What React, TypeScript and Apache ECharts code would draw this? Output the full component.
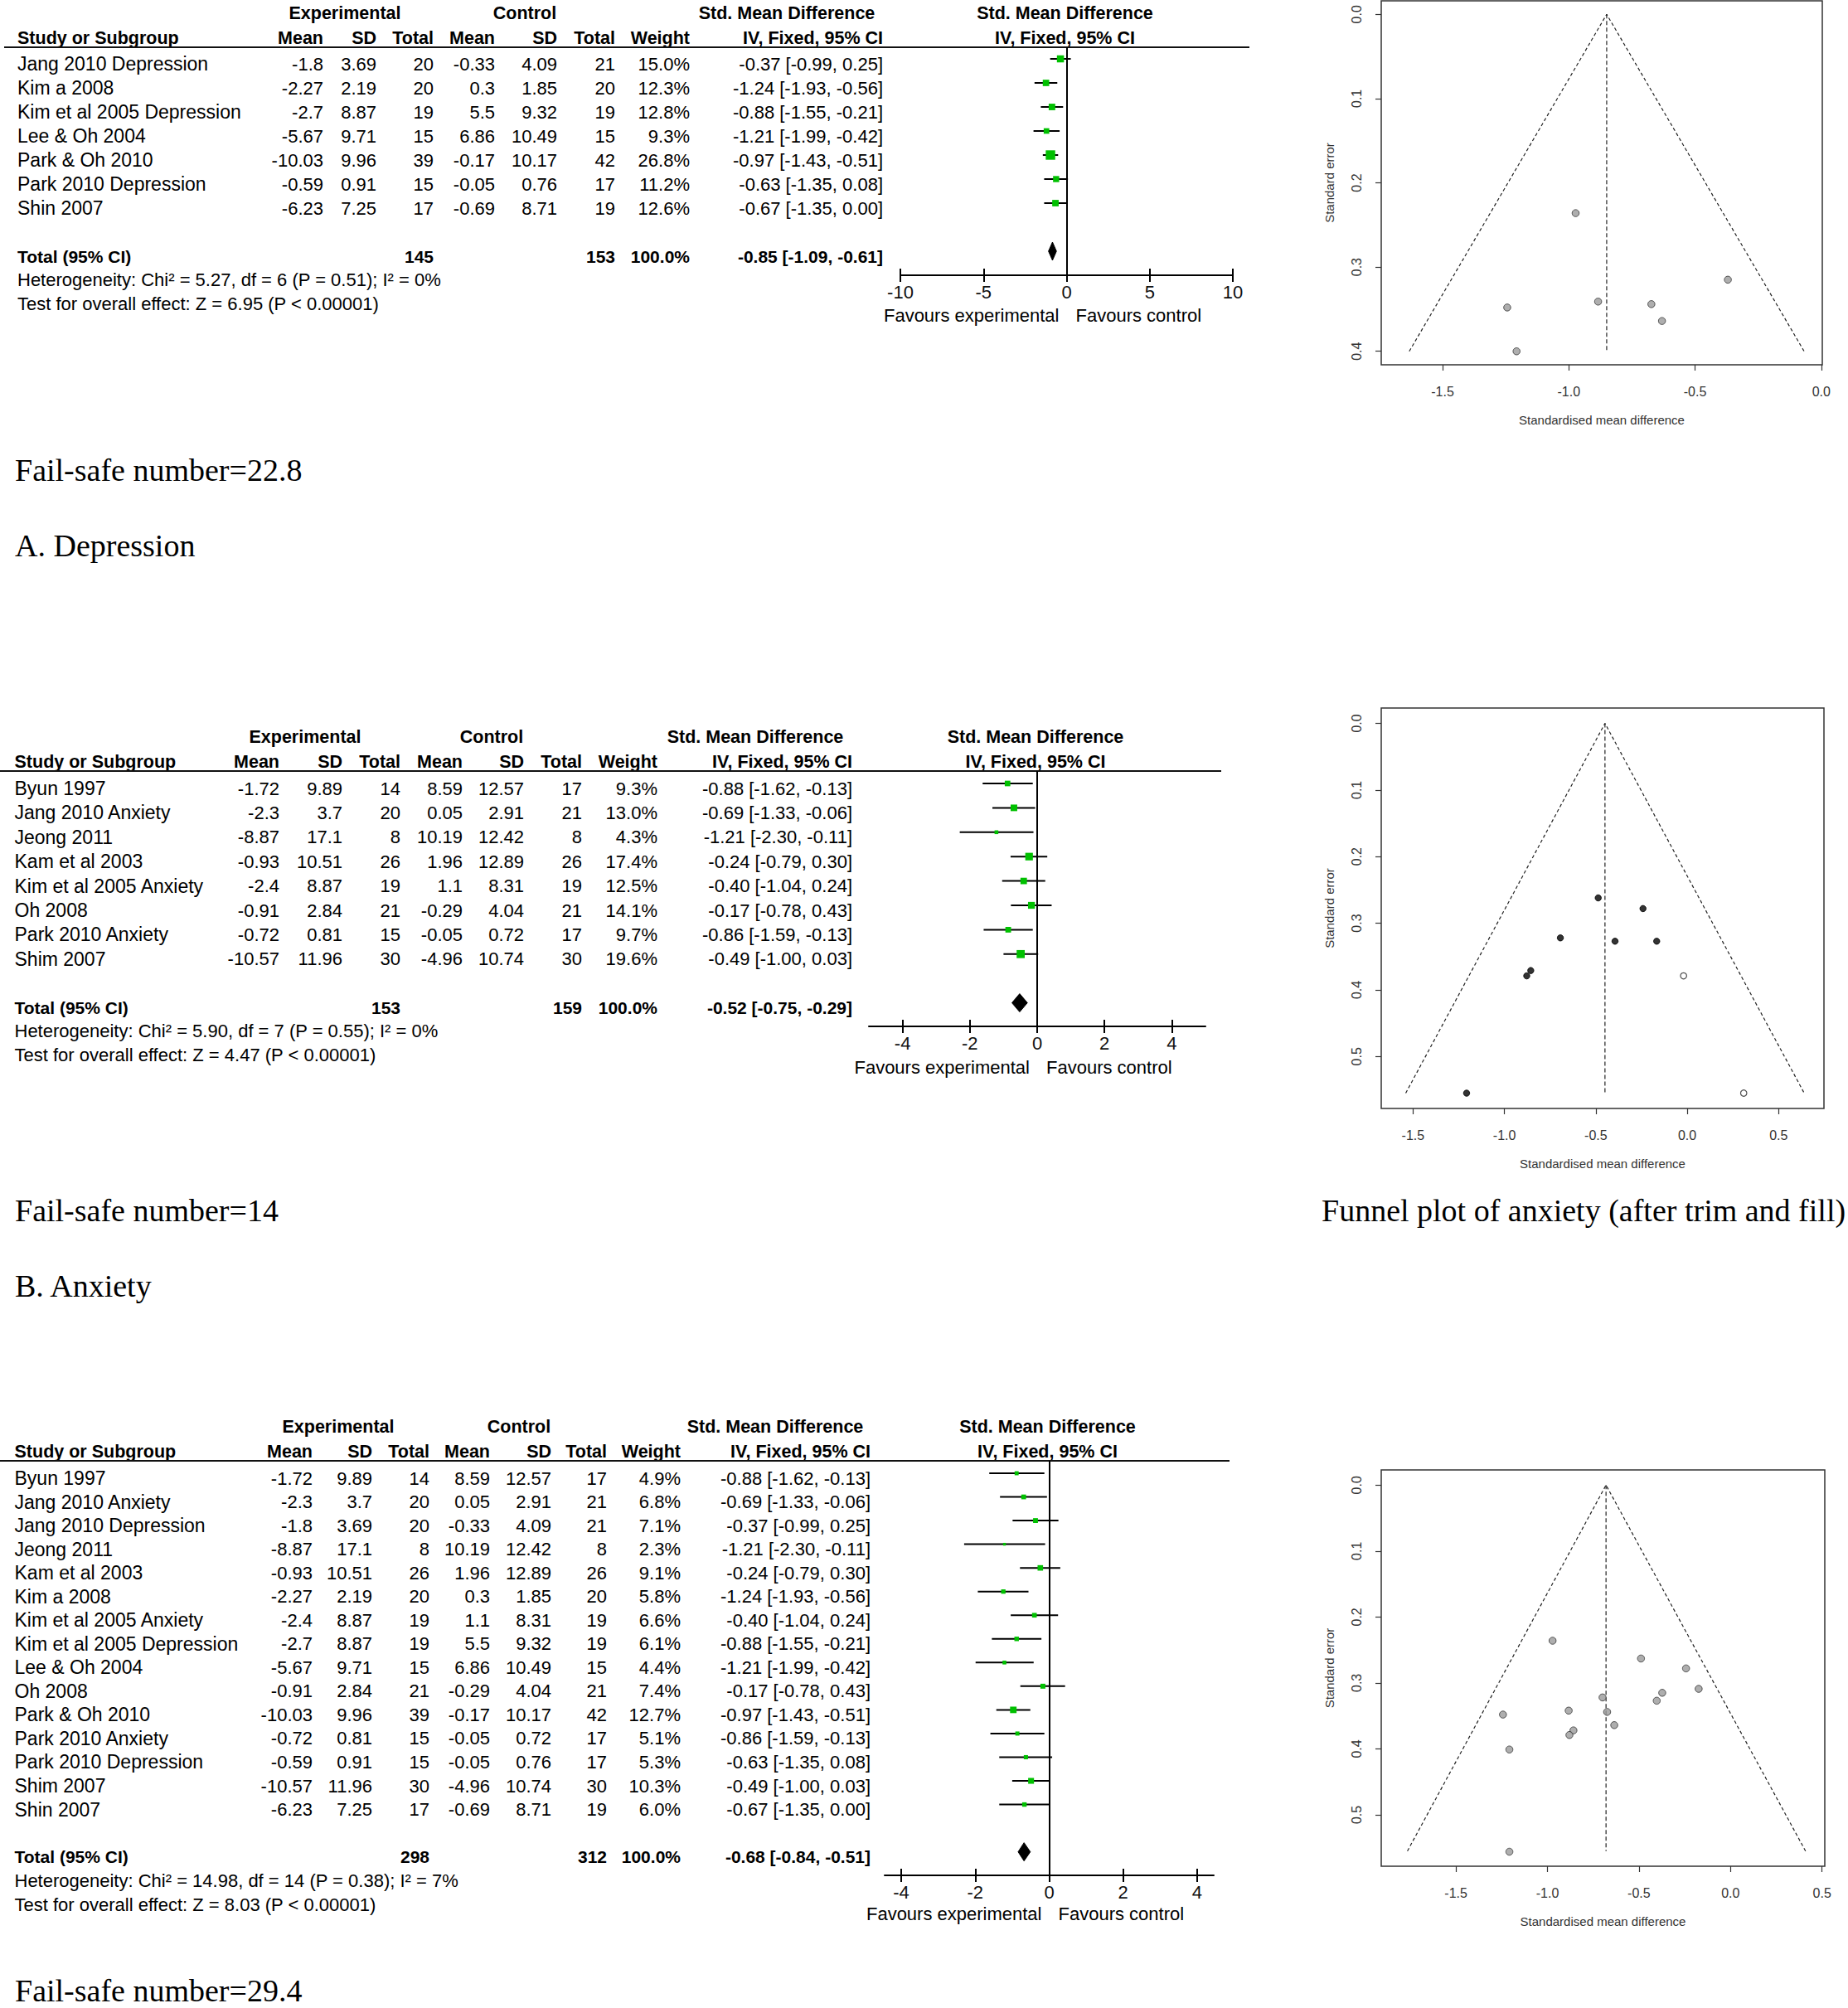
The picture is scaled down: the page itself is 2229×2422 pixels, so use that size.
import React, { useEffect, useRef } from "react";
import * as echarts from "echarts";

const PAGE_W = 2229;
const PAGE_H = 2422;
const TABLE_W = 1100;

// ================= A. Depression (forest) =================
const studiesA = ["Jang 2010 Depression", "Kim a 2008", "Kim et al 2005 Depression", "Lee & Oh 2004", "Park & Oh 2010", "Park 2010 Depression", "Shin 2007"];
const expMeanA = [-1.8, -2.27, -2.7, -5.67, -10.03, -0.59, -6.23];
const expSDA = [3.69, 2.19, 8.87, 9.71, 9.96, 0.91, 7.25];
const expNA = [20, 20, 19, 15, 39, 15, 17];
const ctlMeanA = [-0.33, 0.3, 5.5, 6.86, -0.17, -0.05, -0.69];
const ctlSDA = [4.09, 1.85, 9.32, 10.49, 10.17, 0.76, 8.71];
const ctlNA = [21, 20, 19, 15, 42, 17, 19];
const weightA = [15.0, 12.3, 12.8, 9.3, 26.8, 11.2, 12.6];
const smdA = [-0.37, -1.24, -0.88, -1.21, -0.97, -0.63, -0.67];
const lowA = [-0.99, -1.93, -1.55, -1.99, -1.43, -1.35, -1.35];
const highA = [0.25, -0.56, -0.21, -0.42, -0.51, 0.08, 0.0];
const totalNA = [145, 153];
const totalEffA = [-0.85, -1.09, -0.61];
const hetA = "Heterogeneity: Chi\u00b2 = 5.27, df = 6 (P = 0.51); I\u00b2 = 0%";
const testA = "Test for overall effect: Z = 6.95 (P < 0.00001)";
const forestTicksA = [-10, -5, 0, 5, 10];

// ================= B. Anxiety (forest) =================
const studiesB = ["Byun 1997", "Jang 2010 Anxiety", "Jeong 2011", "Kam et al 2003", "Kim et al 2005 Anxiety", "Oh 2008", "Park 2010 Anxiety", "Shim 2007"];
const expMeanB = [-1.72, -2.3, -8.87, -0.93, -2.4, -0.91, -0.72, -10.57];
const expSDB = [9.89, 3.7, 17.1, 10.51, 8.87, 2.84, 0.81, 11.96];
const expNB = [14, 20, 8, 26, 19, 21, 15, 30];
const ctlMeanB = [8.59, 0.05, 10.19, 1.96, 1.1, -0.29, -0.05, -4.96];
const ctlSDB = [12.57, 2.91, 12.42, 12.89, 8.31, 4.04, 0.72, 10.74];
const ctlNB = [17, 21, 8, 26, 19, 21, 17, 30];
const weightB = [9.3, 13.0, 4.3, 17.4, 12.5, 14.1, 9.7, 19.6];
const smdB = [-0.88, -0.69, -1.21, -0.24, -0.4, -0.17, -0.86, -0.49];
const lowB = [-1.62, -1.33, -2.3, -0.79, -1.04, -0.78, -1.59, -1.0];
const highB = [-0.13, -0.06, -0.11, 0.3, 0.24, 0.43, -0.13, 0.03];
const totalNB = [153, 159];
const totalEffB = [-0.52, -0.75, -0.29];
const hetB = "Heterogeneity: Chi\u00b2 = 5.90, df = 7 (P = 0.55); I\u00b2 = 0%";
const testB = "Test for overall effect: Z = 4.47 (P < 0.00001)";
const forestTicksB = [-4, -2, 0, 2, 4];

// ================= C. All (forest) =================
const studiesC = ["Byun 1997", "Jang 2010 Anxiety", "Jang 2010 Depression", "Jeong 2011", "Kam et al 2003", "Kim a 2008", "Kim et al 2005 Anxiety", "Kim et al 2005 Depression", "Lee & Oh 2004", "Oh 2008", "Park & Oh 2010", "Park 2010 Anxiety", "Park 2010 Depression", "Shim 2007", "Shin 2007"];
const expMeanC = [-1.72, -2.3, -1.8, -8.87, -0.93, -2.27, -2.4, -2.7, -5.67, -0.91, -10.03, -0.72, -0.59, -10.57, -6.23];
const expSDC = [9.89, 3.7, 3.69, 17.1, 10.51, 2.19, 8.87, 8.87, 9.71, 2.84, 9.96, 0.81, 0.91, 11.96, 7.25];
const expNC = [14, 20, 20, 8, 26, 20, 19, 19, 15, 21, 39, 15, 15, 30, 17];
const ctlMeanC = [8.59, 0.05, -0.33, 10.19, 1.96, 0.3, 1.1, 5.5, 6.86, -0.29, -0.17, -0.05, -0.05, -4.96, -0.69];
const ctlSDC = [12.57, 2.91, 4.09, 12.42, 12.89, 1.85, 8.31, 9.32, 10.49, 4.04, 10.17, 0.72, 0.76, 10.74, 8.71];
const ctlNC = [17, 21, 21, 8, 26, 20, 19, 19, 15, 21, 42, 17, 17, 30, 19];
const weightC = [4.9, 6.8, 7.1, 2.3, 9.1, 5.8, 6.6, 6.1, 4.4, 7.4, 12.7, 5.1, 5.3, 10.3, 6.0];
const smdC = [-0.88, -0.69, -0.37, -1.21, -0.24, -1.24, -0.4, -0.88, -1.21, -0.17, -0.97, -0.86, -0.63, -0.49, -0.67];
const lowC = [-1.62, -1.33, -0.99, -2.3, -0.79, -1.93, -1.04, -1.55, -1.99, -0.78, -1.43, -1.59, -1.35, -1.0, -1.35];
const highC = [-0.13, -0.06, 0.25, -0.11, 0.3, -0.56, 0.24, -0.21, -0.42, 0.43, -0.51, -0.13, 0.08, 0.03, 0.0];
const totalNC = [298, 312];
const totalEffC = [-0.68, -0.84, -0.51];
const hetC = "Heterogeneity: Chi\u00b2 = 14.98, df = 14 (P = 0.38); I\u00b2 = 7%";
const testC = "Test for overall effect: Z = 8.03 (P < 0.00001)";
const forestTicksC = [-4, -2, 0, 2, 4];

// ================= Funnel plots =================
const funnelSmdA = [-0.973, -0.37, -0.884, -1.244, -0.673, -0.631, -1.207];
const funnelSeA = [0.236, 0.315, 0.341, 0.348, 0.344, 0.364, 0.4];
const funnelShapeA = [-0.85, 0.4, -1.632, -0.068]; // apex, base SE, left, right
const funnelXTicksA = [-1.5, -1.0, -0.5, 0.0];
const funnelYTicksA = [0, 0.1, 0.2, 0.3, 0.4];

const funnelSmdB = [-0.487, -0.242, -0.694, -0.395, -0.167, -0.856, -0.878, -1.207];
const funnelSeB = [0.262, 0.278, 0.322, 0.327, 0.327, 0.371, 0.379, 0.555];
const filledSmdB = [-0.02, 0.309];
const filledSeB = [0.379, 0.555];
const funnelShapeB = [-0.45, 0.555, -1.54, 0.64];
const funnelXTicksB = [-1.5, -1.0, -0.5, 0.0, 0.5];
const funnelYTicksB = [0, 0.1, 0.2, 0.3, 0.4, 0.5];

const funnelSmdC = [-0.972, -0.489, -0.243, -0.174, -0.373, -0.403, -0.699, -0.674, -0.884, -1.243, -0.635, -0.858, -0.88, -1.208, -1.208];
const funnelSeC = [0.236, 0.263, 0.278, 0.309, 0.315, 0.327, 0.322, 0.344, 0.342, 0.348, 0.364, 0.372, 0.379, 0.401, 0.556];
const funnelShapeC = [-0.68, 0.555, -1.765, 0.41];
const funnelXTicksC = [-1.5, -1.0, -0.5, 0.0, 0.5];
const funnelYTicksC = [0, 0.1, 0.2, 0.3, 0.4, 0.5];

// ================= captions =================
const captionFailA = "Fail-safe number=22.8";
const captionA = "A. Depression";
const captionFailB = "Fail-safe number=14";
const captionB = "B. Anxiety";
const captionFunnelB = "Funnel plot of anxiety (after trim and fill)";
const captionFailC = "Fail-safe number=29.4";

const SANS = '"Liberation Sans", Arial, Helvetica, sans-serif';
const SERIF = '"Liberation Serif", "Times New Roman", serif';
const GREEN = "#00c000";

function fmtCI(e: number, l: number, h: number) {
  return `${e.toFixed(2)} [${l.toFixed(2)}, ${h.toFixed(2)}]`;
}

type ForestData = {
  studies: string[]; eM: number[]; eSD: number[]; eN: number[]; cM: number[]; cSD: number[]; cN: number[];
  w: number[]; est: number[]; lo: number[]; hi: number[]; totN: number[]; totEff: number[];
  het: string; test: string; ticks: number[];
};

type ForestLayout = {
  lineY: number; lineX0: number; lineX1: number; row0: number; rowH: number; axisY: number;
  nameX: number; cols: number[]; expX: number; ctlX: number; smdX: number;
  plotMin: number; plotMax: number; plotLeft: number; plotWidth: number;
  hetY: number; testY: number; favY: number;
};

type FunnelLayout = {
  left: number; top: number; width: number; height: number;
  xMin: number; xMax: number; yMin: number; yMax: number;
};

const layoutA: ForestLayout = {
  lineY: 57, lineX0: 5, lineX1: 1507, row0: 71, rowH: 29, axisY: 332,
  nameX: 21, cols: [390, 454, 523, 597, 672, 742, 832, 1065], expX: 416, ctlX: 633, smdX: 949,
  plotMin: -10, plotMax: 10, plotLeft: 1086, plotWidth: 401, hetY: 337, testY: 366, favY: 380,
};
const layoutB: ForestLayout = {
  lineY: 930, lineX0: 0, lineX1: 1473, row0: 945, rowH: 29.4, axisY: 1238,
  nameX: 17.5, cols: [337, 413, 483, 558, 632, 702, 793, 1028], expX: 368, ctlX: 593, smdX: 911,
  plotMin: -5, plotMax: 5, plotLeft: 1048, plotWidth: 406, hetY: 1243, testY: 1272, favY: 1287,
};
const layoutC: ForestLayout = {
  lineY: 1762, lineX0: 0, lineX1: 1483, row0: 1777, rowH: 28.54, axisY: 2262,
  nameX: 17.5, cols: [377, 449, 518, 591, 665, 732, 821, 1050], expX: 408, ctlX: 626, smdX: 935,
  plotMin: -4.45, plotMax: 4.45, plotLeft: 1067, plotWidth: 397, hetY: 2268, testY: 2297, favY: 2308,
};

const funnelLayoutA: FunnelLayout = { left: 1666, top: 1, width: 532, height: 439, xMin: -1.743, xMax: 0.004, yMin: -0.016, yMax: 0.416 };
const funnelLayoutB: FunnelLayout = { left: 1666, top: 854, width: 534, height: 483, xMin: -1.674, xMax: 0.748, yMin: -0.023, yMax: 0.578 };
const funnelLayoutC: FunnelLayout = { left: 1666, top: 1773, width: 535, height: 478, xMin: -1.908, xMax: 0.515, yMin: -0.023, yMax: 0.578 };

function buildOption() {
  const grid: any[] = [];
  const xAxis: any[] = [];
  const yAxis: any[] = [];
  const series: any[] = [];
  const graphic: any[] = [];

  const addText = (s: string, x: number, y: number, o: { size: number; bold?: boolean; align?: string; family?: string }) => {
    graphic.push({
      type: "text", x, y, silent: true,
      style: {
        text: s, fill: "#000", fontSize: o.size, fontFamily: o.family || SANS,
        fontWeight: o.bold ? "bold" : "normal",
        textAlign: o.align || "left", textVerticalAlign: "middle",
        align: o.align || "left", verticalAlign: "middle",
      },
    });
  };

  const addForest = (d: ForestData, L: ForestLayout) => {
    const n = d.studies.length;
    const H = L.axisY - L.lineY;
    const yMin = -(L.row0 - L.lineY) / L.rowH;
    const yMax = yMin + H / L.rowH;
    const TEXT_DY = 6;

    const gPlot = grid.length;
    grid.push({ left: L.plotLeft, top: L.lineY, width: L.plotWidth, height: H });
    const gTab = grid.length;
    grid.push({ left: 0, top: L.lineY, width: TABLE_W, height: H });

    const xP = xAxis.length;
    xAxis.push({
      gridIndex: gPlot, type: "value", min: L.plotMin, max: L.plotMax, position: "bottom",
      axisLine: { show: true, onZero: false, lineStyle: { color: "#000", width: 2 } },
      axisTick: { show: true, inside: false, length: 8, customValues: d.ticks, lineStyle: { color: "#000", width: 2 } },
      axisLabel: { show: true, customValues: d.ticks, fontSize: 22, fontFamily: SANS, color: "#111", margin: 9, formatter: (v: number) => String(v) },
      splitLine: { show: false },
    });
    xAxis.push({
      gridIndex: gPlot, type: "value", min: L.plotMin, max: L.plotMax, position: "bottom",
      axisLine: { show: false, onZero: false },
      axisTick: { show: true, inside: true, length: 8, customValues: d.ticks, lineStyle: { color: "#000", width: 2 } },
      axisLabel: { show: false },
      splitLine: { show: false },
    });
    const xT = xAxis.length;
    xAxis.push({ gridIndex: gTab, type: "value", min: 0, max: TABLE_W, show: false, axisLine: { onZero: false }, splitLine: { show: false } });

    const yP = yAxis.length;
    yAxis.push({ gridIndex: gPlot, type: "value", inverse: true, min: yMin, max: yMax, show: false, axisLine: { onZero: false }, splitLine: { show: false } });
    const yT = yAxis.length;
    yAxis.push({ gridIndex: gTab, type: "value", inverse: true, min: yMin, max: yMax, show: false, axisLine: { onZero: false }, splitLine: { show: false } });

    // whiskers
    series.push({
      type: "custom", xAxisIndex: xP, yAxisIndex: yP, silent: true,
      data: d.est.map((e, i) => [e, i, d.lo[i], d.hi[i]]),
      encode: { x: [0, 2, 3], y: 1 },
      renderItem: (_p: any, api: any) => {
        const r = api.value(1);
        const a = api.coord([api.value(2), r]);
        const b = api.coord([api.value(3), r]);
        return { type: "line", shape: { x1: a[0], y1: a[1], x2: b[0], y2: b[1] }, style: { stroke: "#000", lineWidth: 2 } };
      },
      z: 3,
    });
    // squares + zero line
    series.push({
      type: "scatter", xAxisIndex: xP, yAxisIndex: yP, silent: true,
      data: d.est.map((e, i) => [e, i, d.w[i]]),
      symbol: "rect",
      symbolSize: (v: number[]) => 2.2 * Math.sqrt(v[2]),
      itemStyle: { color: GREEN, opacity: 1 },
      z: 4,
      markLine: {
        silent: true, symbol: ["none", "none"], label: { show: false },
        lineStyle: { color: "#000", width: 2, type: "solid" },
        data: [{ xAxis: 0 }],
      },
    });
    // diamond
    series.push({
      type: "custom", xAxisIndex: xP, yAxisIndex: yP, silent: true,
      data: [[d.totEff[0], n + 1, d.totEff[1], d.totEff[2]]],
      encode: { x: [0, 2, 3], y: 1 },
      renderItem: (_p: any, api: any) => {
        const r = api.value(1);
        const c = api.coord([api.value(0), r]);
        const l = api.coord([api.value(2), r]);
        const h = api.coord([api.value(3), r]);
        const hh = 11;
        return {
          type: "polygon",
          shape: { points: [[l[0], c[1]], [c[0], c[1] - hh], [h[0], c[1]], [c[0], c[1] + hh]] },
          style: { fill: "#000", stroke: "#000", lineWidth: 1 },
        };
      },
      z: 5,
    });

    // table cells
    const rowCells: string[][] = d.studies.map((s, i) => [
      s, String(d.eM[i]), String(d.eSD[i]), String(d.eN[i]), String(d.cM[i]), String(d.cSD[i]), String(d.cN[i]),
      d.w[i].toFixed(1) + "%", fmtCI(d.est[i], d.lo[i], d.hi[i]),
    ]);
    const totalCells = ["Total (95% CI)", "", "", String(d.totN[0]), "", "", String(d.totN[1]), "100.0%", fmtCI(d.totEff[0], d.totEff[1], d.totEff[2])];
    const tableData = [...d.studies.map((_s, i) => [0, i]), [0, n + 1]];
    series.push({
      type: "custom", xAxisIndex: xT, yAxisIndex: yT, silent: true,
      data: tableData,
      encode: { x: 0, y: 1 },
      renderItem: (params: any, api: any) => {
        const idx = params.dataIndex;
        const r = api.value(1);
        const isTotal = idx === n;
        const cells = isTotal ? totalCells : rowCells[idx];
        const y = api.coord([0, r])[1] + TEXT_DY;
        const children: any[] = [];
        const mk = (t: string, x: number, align: string, size: number) => ({
          type: "text", x, y,
          style: {
            text: t, fill: "#000", fontSize: size, fontFamily: SANS,
            fontWeight: isTotal ? "bold" : "normal",
            textAlign: align, textVerticalAlign: "middle", align, verticalAlign: "middle",
          },
        });
        children.push(mk(cells[0], api.coord([L.nameX, r])[0], "left", isTotal ? 21 : 23));
        for (let k = 0; k < 8; k++) {
          if (cells[k + 1]) children.push(mk(cells[k + 1], api.coord([L.cols[k], r])[0], "right", isTotal ? 21 : 22));
        }
        return { type: "group", children };
      },
    });

    // headers
    const h1 = L.lineY - 41;
    const h2 = L.lineY - 11;
    addText("Experimental", L.expX, h1, { size: 21.5, bold: true, align: "center" });
    addText("Control", L.ctlX, h1, { size: 21.5, bold: true, align: "center" });
    addText("Std. Mean Difference", L.smdX, h1, { size: 21.5, bold: true, align: "center" });
    addText("Study or Subgroup", L.nameX, h2, { size: 21.5, bold: true, align: "left" });
    const hdr = ["Mean", "SD", "Total", "Mean", "SD", "Total", "Weight", "IV, Fixed, 95% CI"];
    hdr.forEach((t, k) => addText(t, L.cols[k], h2, { size: 21.5, bold: true, align: "right" }));
    const zeroPx = L.plotLeft + ((0 - L.plotMin) / (L.plotMax - L.plotMin)) * L.plotWidth;
    addText("Std. Mean Difference", zeroPx - 2, h1, { size: 21.5, bold: true, align: "center" });
    addText("IV, Fixed, 95% CI", zeroPx - 2, h2, { size: 21.5, bold: true, align: "center" });
    graphic.push({
      type: "line", silent: true,
      shape: { x1: L.lineX0, y1: L.lineY, x2: L.lineX1, y2: L.lineY },
      style: { stroke: "#111", lineWidth: 2 },
    });
    addText(d.het, L.nameX, L.hetY, { size: 22 });
    addText(d.test, L.nameX, L.testY, { size: 22 });
    addText("Favours experimental", zeroPx - 9, L.favY, { size: 22, align: "right" });
    addText("Favours control", zeroPx + 11, L.favY, { size: 22, align: "left" });
  };

  const addFunnel = (F: FunnelLayout, shape: number[], xTicks: number[], yTicks: number[], pts: { smd: number[]; se: number[]; kind: string }[]) => {
    const g = grid.length;
    grid.push({ left: F.left, top: F.top, width: F.width, height: F.height, show: true, borderColor: "#333", borderWidth: 1.5, backgroundColor: "rgba(0,0,0,0)" });
    const xi = xAxis.length;
    xAxis.push({
      gridIndex: g, type: "value", min: F.xMin, max: F.xMax, position: "bottom",
      axisLine: { show: false, onZero: false }, splitLine: { show: false },
      axisTick: { show: true, inside: false, length: 7, customValues: xTicks, lineStyle: { color: "#333", width: 1.2 } },
      axisLabel: { show: true, customValues: xTicks, formatter: (v: number) => Number(v).toFixed(1), fontSize: 16, fontFamily: SANS, color: "#333", margin: 24 },
      name: "Standardised mean difference", nameLocation: "middle", nameGap: 59,
      nameTextStyle: { fontSize: 15, fontFamily: SANS, color: "#333" },
    });
    const yi = yAxis.length;
    yAxis.push({
      gridIndex: g, type: "value", inverse: true, min: F.yMin, max: F.yMax, position: "left",
      axisLine: { show: false, onZero: false }, splitLine: { show: false },
      axisTick: { show: true, inside: false, length: 7, customValues: yTicks, lineStyle: { color: "#333", width: 1.2 } },
      axisLabel: { show: true, customValues: yTicks, rotate: 90, formatter: (v: number) => Number(v).toFixed(1), fontSize: 16, fontFamily: SANS, color: "#333", margin: 22 },
      name: "Standard error", nameLocation: "middle", nameGap: 55, nameRotate: 90,
      nameTextStyle: { fontSize: 15, fontFamily: SANS, color: "#333" },
    });
    const [apex, base, lo, hi] = shape;
    series.push({
      type: "line", xAxisIndex: xi, yAxisIndex: yi, silent: true, symbol: "none", showSymbol: false,
      data: [[lo, base], [apex, 0], [hi, base]],
      lineStyle: { color: "#222", width: 1.2, type: [4, 3] }, z: 2,
    });
    series.push({
      type: "line", xAxisIndex: xi, yAxisIndex: yi, silent: true, symbol: "none", showSymbol: false,
      data: [[apex, 0], [apex, base]],
      lineStyle: { color: "#222", width: 1.2, type: [5, 3] }, z: 2,
    });
    pts.forEach((p) => {
      const style =
        p.kind === "grey" ? { color: "#9a9a9a", borderColor: "#333", borderWidth: 1 }
        : p.kind === "black" ? { color: "#000", borderColor: "#000", borderWidth: 1 }
        : { color: "#fff", borderColor: "#222", borderWidth: 1.2 };
      series.push({
        type: "scatter", xAxisIndex: xi, yAxisIndex: yi, silent: true,
        data: p.smd.map((x, i) => [x, p.se[i]]),
        symbol: "circle", symbolSize: p.kind === "grey" ? 8.5 : 7.5,
        itemStyle: style, z: 4,
      });
    });
  };

  addForest({
    studies: studiesA, eM: expMeanA, eSD: expSDA, eN: expNA, cM: ctlMeanA, cSD: ctlSDA, cN: ctlNA,
    w: weightA, est: smdA, lo: lowA, hi: highA, totN: totalNA, totEff: totalEffA, het: hetA, test: testA, ticks: forestTicksA,
  }, layoutA);
  addForest({
    studies: studiesB, eM: expMeanB, eSD: expSDB, eN: expNB, cM: ctlMeanB, cSD: ctlSDB, cN: ctlNB,
    w: weightB, est: smdB, lo: lowB, hi: highB, totN: totalNB, totEff: totalEffB, het: hetB, test: testB, ticks: forestTicksB,
  }, layoutB);
  addForest({
    studies: studiesC, eM: expMeanC, eSD: expSDC, eN: expNC, cM: ctlMeanC, cSD: ctlSDC, cN: ctlNC,
    w: weightC, est: smdC, lo: lowC, hi: highC, totN: totalNC, totEff: totalEffC, het: hetC, test: testC, ticks: forestTicksC,
  }, layoutC);

  addFunnel(funnelLayoutA, funnelShapeA, funnelXTicksA, funnelYTicksA, [{ smd: funnelSmdA, se: funnelSeA, kind: "grey" }]);
  addFunnel(funnelLayoutB, funnelShapeB, funnelXTicksB, funnelYTicksB, [
    { smd: funnelSmdB, se: funnelSeB, kind: "black" },
    { smd: filledSmdB, se: filledSeB, kind: "open" },
  ]);
  addFunnel(funnelLayoutC, funnelShapeC, funnelXTicksC, funnelYTicksC, [{ smd: funnelSmdC, se: funnelSeC, kind: "grey" }]);

  // captions
  addText(captionFailA, 18, 567, { size: 38, family: SERIF });
  addText(captionA, 18, 658, { size: 38, family: SERIF });
  addText(captionFailB, 18, 1460, { size: 38, family: SERIF });
  addText(captionB, 18, 1551, { size: 38, family: SERIF });
  addText(captionFunnelB, 1594, 1460, { size: 38, family: SERIF });
  addText(captionFailC, 18, 2401, { size: 38, family: SERIF });

  return {
    animation: false,
    backgroundColor: "#fff",
    grid, xAxis, yAxis, series, graphic,
  };
}

export default function App() {
  const ref = useRef<HTMLDivElement>(null);
  useEffect(() => {
    document.body.style.margin = "0";
    const chart = echarts.init(ref.current as HTMLDivElement, null, { renderer: "svg" });
    chart.setOption(buildOption() as any);
    return () => chart.dispose();
  }, []);
  return <div ref={ref} style={{ width: PAGE_W, height: PAGE_H, background: "#fff" }} />;
}
